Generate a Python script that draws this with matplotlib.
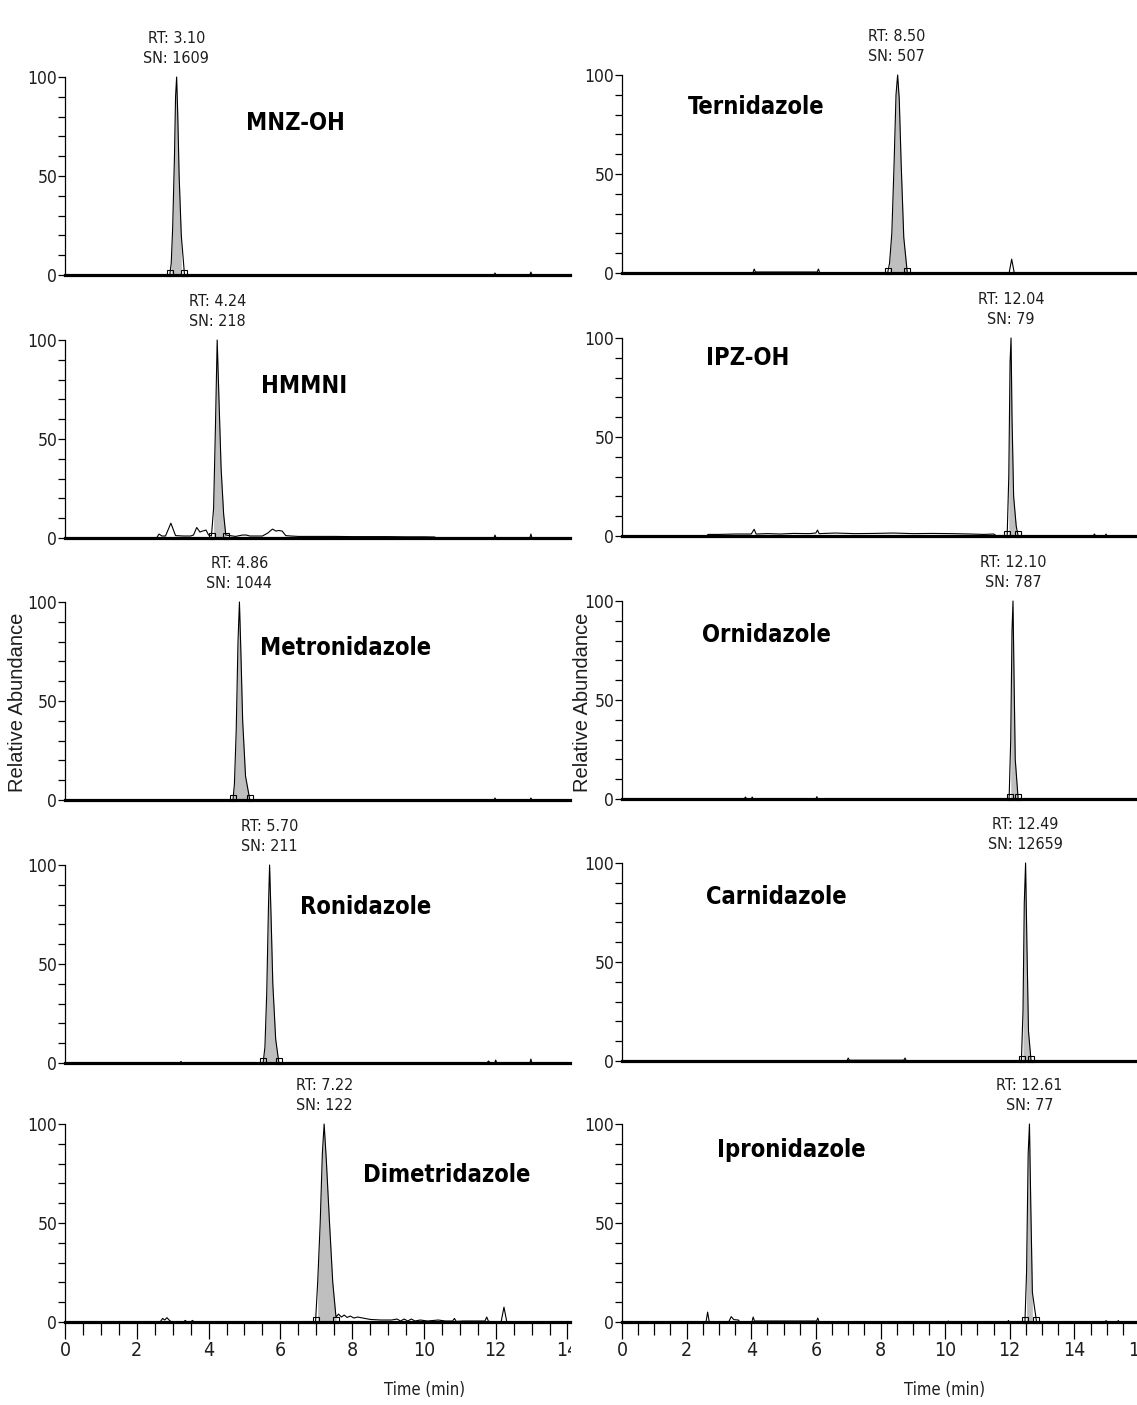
import os
import numpy as np
import matplotlib
matplotlib.use("Agg")
import matplotlib.pyplot as plt
from matplotlib import font_manager
from matplotlib.font_manager import FontProperties
from matplotlib.patches import Rectangle
from matplotlib.ticker import MultipleLocator, FixedLocator

# ---- data (time in min, relative abundance in %) ----
left_names = ["MNZ-OH", "HMMNI", "Metronidazole", "Ronidazole", "Dimetridazole"]
left_rt = ["3.10", "4.24", "4.86", "5.70", "7.22"]
left_sn = ["1609", "218", "1044", "211", "122"]

right_names = ["Ternidazole", "IPZ-OH", "Ornidazole", "Carnidazole", "Ipronidazole"]
right_rt = ["8.50", "12.04", "12.10", "12.49", "12.61"]
right_sn = ["507", "79", "787", "12659", "77"]

mnz_oh_t = [0, 2.92, 2.96, 3.00, 3.05, 3.08, 3.11, 3.14, 3.18, 3.24, 3.33,
            11.95, 11.98, 12.01, 12.95, 12.98, 13.01, 14.1]
mnz_oh_y = [0, 0, 6, 24, 60, 90, 100, 82, 50, 20, 0,
            0, 1, 0, 0, 1.5, 0, 0]
mnz_oh_int = [2.93, 3.32]

hmmni_t = [0, 2.55, 2.62, 2.70, 2.80, 2.95, 3.08, 3.30, 3.50, 3.58, 3.67, 3.76,
           3.83, 3.93, 4.00, 4.08, 4.14, 4.19, 4.24, 4.29, 4.35, 4.42, 4.48,
           4.60, 4.75, 4.95, 5.05, 5.15, 5.50, 5.65, 5.78, 5.88, 5.95, 6.05,
           6.15, 6.30, 6.50, 7.0, 7.5, 8.0, 8.5, 9.0, 9.5, 10.0, 10.30, 10.35,
           11.95, 11.98, 12.01, 12.95, 12.98, 13.01, 14.1]
hmmni_y = [0, 0, 2, 1, 1, 7.5, 1.2, 1, 1, 1.5, 5.3, 3,
           3.5, 4, 1.5, 1, 15, 55, 100, 70, 35, 12, 1.5,
           1.2, 0.8, 1.5, 1.5, 1, 1, 2.5, 4.5, 3.5, 3.8, 3.5,
           1.2, 1, 0.8, 0.8, 0.8, 0.7, 0.7, 0.7, 0.6, 0.6, 0.5, 0,
           0, 1.5, 0, 0, 2, 0, 0]
hmmni_int = [4.09, 4.48]

metro_t = [0, 4.68, 4.72, 4.77, 4.82, 4.86, 4.90, 4.95, 5.03, 5.15,
           11.95, 11.98, 12.01, 12.95, 12.98, 13.01, 14.1]
metro_y = [0, 0, 8, 35, 80, 100, 75, 40, 12, 0,
           0, 1, 0, 0, 1, 0, 0]
metro_int = [4.68, 5.15]

roni_t = [0, 3.20, 3.23, 3.26, 5.52, 5.57, 5.62, 5.67, 5.70, 5.74, 5.79, 5.87,
          5.96, 11.75, 11.80, 11.85, 11.97, 12.00, 12.03, 12.95, 12.98, 13.01, 14.1]
roni_y = [0, 0, 0.8, 0, 0, 8, 35, 80, 100, 75, 40, 12,
          0, 0, 1, 0, 0, 1.5, 0, 0, 2, 0, 0]
roni_int = [5.52, 5.96]

dimet_t = [0, 2.65, 2.72, 2.78, 2.84, 2.90, 2.97, 3.30, 3.35, 3.40, 3.50, 3.55,
           3.60, 6.98, 7.04, 7.11, 7.17, 7.22, 7.28, 7.37, 7.46, 7.55, 7.62,
           7.70, 7.78, 7.86, 7.95, 8.05, 8.15, 8.30, 8.50, 8.80, 9.10, 9.25,
           9.35, 9.45, 9.55, 9.65, 9.75, 9.90, 10.1, 10.4, 10.6, 10.8, 10.85,
           10.9, 11.1, 11.7, 11.75, 11.8, 12.15, 12.23, 12.31, 14.1]
dimet_y = [0, 0, 1.8, 1, 2.2, 1, 0, 0, 0.8, 0, 0, 0.8,
           0, 0, 20, 50, 85, 100, 82, 50, 20, 2.5, 4,
           2.5, 3.5, 2.3, 3, 2, 2.5, 2, 1.3, 1, 1, 1.5,
           0.5, 1.5, 0.5, 1.5, 0.5, 1, 0.5, 1, 0.5, 0.5, 1.8,
           0.3, 0.5, 0.5, 2.5, 0.3, 0, 7.5, 0, 0]
dimet_int = [7.00, 7.56]

tern_t = [0, 4.05, 4.09, 4.13, 6.04, 6.08, 6.12, 8.22, 8.28, 8.35, 8.42, 8.48,
          8.53, 8.58, 8.64, 8.72, 8.83, 11.98, 12.06, 12.14, 16]
tern_y = [0, 0, 2, 0.5, 0.5, 2, 0, 0, 5, 20, 55, 90,
          100, 88, 55, 18, 0, 0, 7, 0, 0]
tern_int = [8.24, 8.83]

ipzoh_t = [0, 2.62, 2.66, 3.0, 3.5, 4.0, 4.09, 4.15, 4.5, 4.9, 5.3, 5.8, 6.0,
           6.05, 6.1, 6.6, 7.2, 7.8, 8.4, 9.0, 9.6, 10.2, 10.8, 11.2, 11.5,
           11.6, 11.92, 11.97, 12.01, 12.04, 12.07, 12.12, 12.2, 12.26, 14.58,
           14.62, 14.66, 14.95, 14.98, 15.01, 16]
ipzoh_y = [0, 0, 0.8, 0.8, 1, 1, 3.4, 1, 1.2, 1, 1.3, 1.2, 1.5,
           3, 1.2, 1.5, 1.2, 1.3, 1.5, 1.2, 1.3, 1.2, 1, 0.8, 1,
           0, 0, 30, 88, 100, 60, 20, 5, 0, 0,
           1, 0, 0, 1, 0, 0]
ipzoh_int = [11.93, 12.24]

orni_t = [0, 3.78, 3.82, 3.86, 4.00, 4.03, 4.06, 6.00, 6.03, 6.06, 11.98, 12.03,
          12.07, 12.10, 12.13, 12.17, 12.26, 16]
orni_y = [0, 0, 1, 0, 0, 1, 0, 0, 1.2, 0, 0, 30,
          85, 100, 65, 20, 0, 0]
orni_int = [12.00, 12.26]

carni_t = [0, 6.96, 7.00, 7.04, 8.72, 8.76, 8.80, 12.36, 12.41, 12.45, 12.49,
           12.53, 12.58, 12.66, 16]
carni_y = [0, 0, 1.5, 0.4, 0.4, 1.5, 0, 0, 25, 80, 100,
           60, 15, 0, 0]
carni_int = [12.37, 12.66]

ipro_t = [0, 2.60, 2.65, 2.70, 3.30, 3.38, 3.46, 3.60, 3.65, 4.02, 4.06, 4.10,
          4.15, 6.02, 6.06, 6.10, 10.08, 10.10, 10.12, 11.94, 11.96, 11.98,
          12.47, 12.52, 12.57, 12.61, 12.65, 12.70, 12.83, 14.96, 14.98, 15.00,
          15.34, 15.36, 15.38, 16]
ipro_y = [0, 0, 5, 0, 0, 2.7, 1.2, 1, 0, 0, 2.5, 0.5,
          0.5, 0.5, 2, 0, 0, 0.5, 0, 0, 0.8, 0,
          0, 25, 85, 100, 60, 15, 0, 0, 0.8, 0,
          0, 0.8, 0, 0]
ipro_int = [12.48, 12.80]

left_traces = [(mnz_oh_t, mnz_oh_y, mnz_oh_int), (hmmni_t, hmmni_y, hmmni_int),
               (metro_t, metro_y, metro_int), (roni_t, roni_y, roni_int),
               (dimet_t, dimet_y, dimet_int)]
right_traces = [(tern_t, tern_y, tern_int), (ipzoh_t, ipzoh_y, ipzoh_int),
                (orni_t, orni_y, orni_int), (carni_t, carni_y, carni_int),
                (ipro_t, ipro_y, ipro_int)]

# ---- layout (pixels of the 1137x1405 canvas) ----
W, H = 1137, 1405
PANEL_H = 198
LEFT_X = (65, 570)
RIGHT_X = (622, 1139)
LEFT_BOT = [275, 538, 800, 1063, 1322]
RIGHT_BOT = [273, 536, 799, 1061, 1322]
LEFT_XLIM = 14.07
RIGHT_XLIM = 16
# name label positions (data coords)
left_name_xy = [(6.41, 77), (6.66, 77), (7.83, 77), (8.38, 79), (10.64, 74)]
right_name_xy = [(4.15, 84), (3.90, 90), (4.46, 83), (4.77, 83), (5.25, 87)]


# ---- fonts: the original uses Arial Narrow; look for any narrow/condensed sans ----
def find_narrow(bold):
    prefs = ["liberation sans narrow", "arial narrow", "dejavu sans condensed",
             "dejavusanscondensed", "noto sans condensed", "notosans-condensed",
             "roboto condensed", "robotocondensed", "open sans condensed",
             "opensans_condensed", "opensans-condensed"]
    found = []
    for f in font_manager.fontManager.ttflist:
        base = os.path.basename(f.fname).lower()
        tag = (f.name + " " + base).lower()
        if "italic" in base or "oblique" in base or f.style != "normal":
            continue
        is_narrow = ("narrow" in tag or "condensed" in tag or
                     str(f.stretch) in ("condensed", "semi-condensed"))
        if not is_narrow or "extra" in base or "semi" in base or "ultra" in base:
            continue
        w = f.weight if isinstance(f.weight, int) else (700 if "bold" in str(f.weight) else 400)
        if bold != (w >= 600):
            continue
        if not bold and w < 350:
            continue
        rank = len(prefs)
        for k, p in enumerate(prefs):
            if p in tag:
                rank = k
                break
        found.append((rank, abs(w - (700 if bold else 400)), f.fname))
    if found:
        found.sort()
        return found[0][2]
    return None


NARROW_REG = find_narrow(False)
NARROW_BOLD = find_narrow(True)


def fp(size, bold=False):
    path = NARROW_BOLD if bold else NARROW_REG
    if path:
        return FontProperties(fname=path, size=size)
    return FontProperties(family=["Liberation Sans", "DejaVu Sans"], size=size,
                          weight="bold" if bold else "normal", stretch="condensed")


TXT = "#1e1e1e"
fig = plt.figure(figsize=(W / 100, H / 100), dpi=100)


def panel(x0, x1, ybot, xmax, bottom_row):
    ax = fig.add_axes([x0 / W, 1 - ybot / H, (x1 - x0) / W, PANEL_H / H])
    ax.set_xlim(0, xmax)
    ax.set_ylim(0, 100)
    for s in ("top", "right"):
        ax.spines[s].set_visible(False)
    ax.spines["left"].set_linewidth(0.9)
    ax.spines["bottom"].set_linewidth(2.3)
    ax.yaxis.set_major_locator(FixedLocator([0, 50, 100]))
    ax.yaxis.set_minor_locator(MultipleLocator(10))
    ax.tick_params(axis="y", which="both", length=5, width=0.9, pad=0.5,
                   labelcolor=TXT)
    if bottom_row:
        ax.xaxis.set_major_locator(MultipleLocator(2))
        ax.xaxis.set_minor_locator(MultipleLocator(0.5))
        ax.tick_params(axis="x", which="major", length=12, width=0.9, pad=2,
                       labelcolor=TXT)
        ax.tick_params(axis="x", which="minor", length=9, width=0.9)
        for lab in ax.get_xticklabels():
            lab.set_fontproperties(fp(14))
    else:
        ax.tick_params(axis="x", which="both", bottom=False, labelbottom=False)
    for lab in ax.get_yticklabels():
        lab.set_fontproperties(fp(12.5))
    ax.patch.set_alpha(0)
    return ax


def draw(ax, t, y, integ, rt, sn, name, name_xy):
    t = np.asarray(t, float)
    y = np.asarray(y, float)
    inside = (t >= integ[0] - 1e-9) & (t <= integ[1] + 1e-9)
    ax.fill_between(t, y, 0, where=inside, color="#bfbfbf", lw=0, zorder=1)
    ax.plot(t, y, color="black", lw=0.8, zorder=2, clip_on=False)
    ax.plot(integ, [0.8, 0.8], ls="none", marker="s", ms=4.5, mfc="none",
            mec="black", mew=0.8, zorder=3, clip_on=False)
    ax.annotate(f"RT: {rt}\nSN: {sn}", xy=(float(rt), 100), xytext=(0, 11),
                textcoords="offset pixels", ha="center", va="bottom",
                fontproperties=fp(11.5), linespacing=1.4, color=TXT,
                annotation_clip=False)
    ax.text(name_xy[0], name_xy[1], name, ha="center", va="center",
            fontproperties=fp(17, bold=True), color="black")


for i in range(5):
    last = i == 4
    axl = panel(LEFT_X[0], LEFT_X[1], LEFT_BOT[i], LEFT_XLIM, last)
    t, y, integ = left_traces[i]
    draw(axl, t, y, integ, left_rt[i], left_sn[i], left_names[i], left_name_xy[i])
    axr = panel(RIGHT_X[0], RIGHT_X[1], RIGHT_BOT[i], RIGHT_XLIM, last)
    t, y, integ = right_traces[i]
    draw(axr, t, y, integ, right_rt[i], right_sn[i], right_names[i], right_name_xy[i])

# axis titles
for xc in (18, 582):
    fig.text(xc / W, 1 - 702 / H, "Relative Abundance", rotation=90,
             ha="center", va="center", fontsize=14.5, color=TXT,
             family=["Liberation Sans", "DejaVu Sans"])
for xc in (425, 945):
    fig.text(xc / W, 1 - 1390 / H, "Time (min)", ha="center", va="center",
             fontproperties=fp(12), color=TXT)

# the left-hand screenshot was cropped right after the "14" tick
fig.patches.append(Rectangle((571 / W, 1 - 1368 / H), 22 / W, 36 / H,
                             transform=fig.transFigure, facecolor="white",
                             edgecolor="none", zorder=10))

fig.savefig("out.png", dpi=100, facecolor="white")
